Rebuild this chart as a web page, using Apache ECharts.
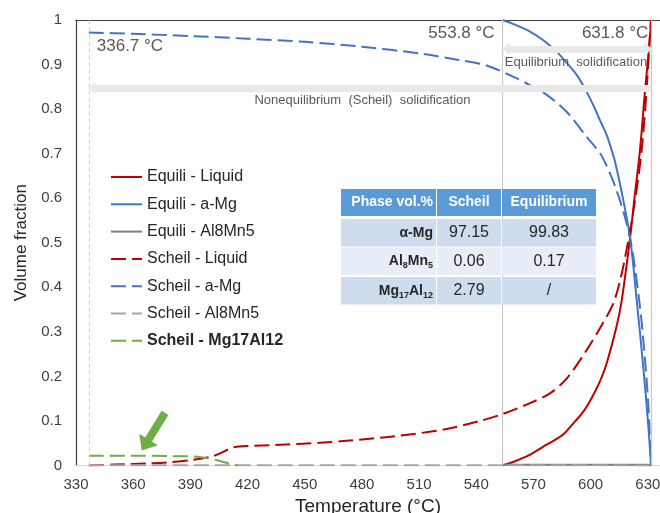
<!DOCTYPE html>
<html><head><meta charset="utf-8">
<script src="https://cdn.jsdelivr.net/npm/echarts@6/dist/echarts.min.js"></script>
<style>html,body{margin:0;padding:0;background:#fff}#c{width:660px;height:513px}</style>
</head><body><div id="c"></div>
<script>
const FONT = 'Liberation Sans, Arial, sans-serif';

// ---------- data ----------
const tEqLiq = [553.8, 560, 568, 575, 580, 585.7, 591, 596, 600, 605, 608.4, 613.6, 616.3, 620.7, 623, 625.9, 628.5, 630.5, 631.8];
const vEqLiq = [0, 0.009, 0.024, 0.042, 0.054, 0.07, 0.095, 0.12, 0.147, 0.19, 0.229, 0.312, 0.37, 0.511, 0.6, 0.708, 0.839, 0.93, 1.0];

const tEqMg = [553.8, 560, 568.2, 575, 582.2, 587, 592.7, 597, 601.4, 605, 608.4, 611, 612.8, 616, 620.7, 624.2, 627.6, 630.3, 631.7];
const vEqMg = [1.0, 0.99, 0.974, 0.955, 0.929, 0.906, 0.877, 0.846, 0.809, 0.774, 0.742, 0.708, 0.682, 0.62, 0.511, 0.37, 0.222, 0.087, 0];

const tEqAlMn = [553.8, 570, 600, 625, 630, 631.8];
const vEqAlMn = [0.0017, 0.0017, 0.0017, 0.0017, 0.0017, 0];

const tScLiq = [336.7, 350, 368.8, 377.6, 389.8, 400.3, 405, 410.8, 414.3, 440, 458, 470.2, 498.2, 524.4, 542, 554.2, 568.2, 578.7, 587.4, 597.9, 605.8, 611.9, 616, 619.8, 623.5, 626.8, 629.3, 631.6];
const vScLiq = [0, 0.002, 0.005, 0.007, 0.012, 0.019, 0.026, 0.038, 0.042, 0.047, 0.051, 0.055, 0.066, 0.082, 0.1, 0.116, 0.14, 0.162, 0.195, 0.259, 0.315, 0.364, 0.425, 0.506, 0.6, 0.708, 0.84, 1.0];

const tScMg = [336.7, 360, 390, 420, 450, 480, 510, 530, 544.6, 559.3, 568, 577, 587.4, 597.9, 605.8, 613.6, 620.7, 625.9, 628.5, 630.5, 631.6];
const vScMg = [0.972, 0.969, 0.964, 0.958, 0.951, 0.94, 0.925, 0.911, 0.899, 0.873, 0.854, 0.832, 0.794, 0.738, 0.695, 0.618, 0.511, 0.356, 0.24, 0.12, 0];

const tScAlMn = [336.7, 400, 500, 600, 631.5];
const vScAlMn = [0.0006, 0.0006, 0.0006, 0.0006, 0];

const tScMgAl = [336.7, 360, 380, 392, 398, 404, 409, 412, 415];
const vScMgAl = [0.022, 0.022, 0.021, 0.02, 0.017, 0.012, 0.006, 0.003, 0];

const seriesNames = ['Equili - Liquid', 'Equili - a-Mg', 'Equili - Al8Mn5', 'Scheil - Liquid', 'Scheil - a-Mg', 'Scheil - Al8Mn5', 'Scheil - Mg17Al12'];

const markTemps = [336.7, 553.8, 631.8];
const markTempLabels = ['336.7 °C', '553.8 °C', '631.8 °C'];

const tableHead = ['Phase vol.%', 'Scheil', 'Equilibrium'];
const tablePhases = ['{b|α-Mg}', '{b|Al}{s|8}{b|Mn}{s|5}', '{b|Mg}{s|17}{b|Al}{s|12}'];
const tableScheil = ['97.15', '0.06', '2.79'];
const tableEquil = ['99.83', '0.17', '/'];

// ---------- helpers ----------
const zip = (a, b) => a.map((x, i) => [x, b[i]]);
const RED = '#C00000', BLUE = '#4472C4', GRAY = '#7F7F7F', LGRAY = '#A5A5A5', GREEN = '#70AD47';
const DASH = [15, 6];

function lineSeries(name, t, v, color, dashed, extra) {
  return Object.assign({
    name, type: 'line', data: zip(t, v), symbol: 'none', showSymbol: false,
    smooth: 0.3,
    lineStyle: { color, width: 2, type: dashed ? DASH.slice() : 'solid', cap: 'butt', join: 'round' },
    itemStyle: { color },
    z: 3
  }, extra || {});
}

const chart = echarts.init(document.getElementById('c'), null, { renderer: 'canvas' });

// table graphic
const tbl = [];
const tx = [341, 437, 502], tw = [95, 64, 94];
const headY = 189, headH = 27;
const rowY = [219, 247.5, 277], rowH = 27.5;
const rowColors = ['#CFDCEE', '#E8EEF7', '#CFDCEE'];
for (let c = 0; c < 3; c++) {
  tbl.push({ type: 'rect', shape: { x: tx[c], y: headY, width: tw[c], height: headH }, style: { fill: '#5B9BD5' } });
  tbl.push({ type: 'text', style: { text: tableHead[c], x: c === 0 ? tx[c] + tw[c] - 3 : tx[c] + tw[c] / 2, y: headY + headH / 2,
    align: c === 0 ? 'right' : 'center', verticalAlign: 'middle', fill: '#fff', font: 'bold 14px ' + FONT } });
}
const vals = [tableScheil, tableEquil];
for (let r = 0; r < 3; r++) {
  for (let c = 0; c < 3; c++) {
    tbl.push({ type: 'rect', shape: { x: tx[c], y: rowY[r], width: tw[c], height: rowH }, style: { fill: rowColors[r] } });
  }
  tbl.push({ type: 'text', style: { text: tablePhases[r], x: tx[0] + tw[0] - 3, y: rowY[r] + rowH / 2, align: 'right', verticalAlign: 'middle',
    rich: { b: { fontSize: 14, fontWeight: 'bold', fontFamily: FONT, fill: '#262626', lineHeight: 18 },
            s: { fontSize: 9, fontWeight: 'bold', fontFamily: FONT, fill: '#262626', verticalAlign: 'bottom' } } } });
  for (let c = 1; c < 3; c++) {
    tbl.push({ type: 'text', style: { text: vals[c - 1][r], x: tx[c] + tw[c] / 2, y: rowY[r] + rowH / 2, align: 'center', verticalAlign: 'middle',
      fill: '#262626', font: '16px ' + FONT } });
  }
}

const series = [
  lineSeries(seriesNames[0], tEqLiq, vEqLiq, RED, false),
  lineSeries(seriesNames[1], tEqMg, vEqMg, BLUE, false),
  lineSeries(seriesNames[2], tEqAlMn, vEqAlMn, GRAY, false, { smooth: false }),
  lineSeries(seriesNames[3], tScLiq, vScLiq, RED, true),
  lineSeries(seriesNames[4], tScMg, vScMg, BLUE, true),
  lineSeries(seriesNames[5], tScAlMn, vScAlMn, LGRAY, true, { smooth: false }),
  lineSeries(seriesNames[6], tScMgAl, vScMgAl, GREEN, true),
  {
    name: 'annot', type: 'line', data: [], symbol: 'none', silent: true, z: 1,
    markLine: {
      silent: true, symbol: ['none', 'none'], animation: false,
      label: { show: false },
      data: [
        { xAxis: markTemps[0], lineStyle: { color: '#D0D0D0', type: [4, 3], width: 1 } },
        { xAxis: markTemps[1], lineStyle: { color: '#C8C8C8', type: 'solid', width: 1.2 } },
        { xAxis: markTemps[2], lineStyle: { color: '#C8C8C8', type: 'solid', width: 1.2 } },
        [ { coord: [markTemps[2], 0.847], symbol: 'none' },
          { coord: [markTemps[0] + 1.5, 0.847], symbol: 'triangle', symbolSize: [12, 8], lineStyle: { color: '#E9E9E9', width: 7, type: 'solid' } } ],
        [ { coord: [630.3, 0.935], symbol: 'triangle', symbolSize: [12, 8] },
          { coord: [555.5, 0.935], symbol: 'triangle', symbolSize: [12, 8], lineStyle: { color: '#E9E9E9', width: 7, type: 'solid' } } ],
        [ { coord: [376.7, 0.118], symbol: 'none' },
          { coord: [366.3, 0.046], symbol: 'triangle', symbolSize: [22, 13], lineStyle: { color: GREEN, width: 8, type: 'solid' } } ]
      ]
    },
    markPoint: {
      silent: true, symbol: 'circle', symbolSize: 0, animation: false,
      data: [
        { coord: [markTemps[0], 0.942], label: { show: true, formatter: markTempLabels[0], position: 'right', distance: 8, fontSize: 17, color: '#595959', fontFamily: FONT } },
        { coord: [markTemps[1], 0.970], label: { show: true, formatter: markTempLabels[1], position: 'left', distance: 8, fontSize: 17, color: '#595959', fontFamily: FONT } },
        { coord: [markTemps[2], 0.970], label: { show: true, formatter: markTempLabels[2], position: 'left', distance: 3, fontSize: 17, color: '#595959', fontFamily: FONT } },
        { coord: [592.3, 0.905], label: { show: true, formatter: 'Equilibrium  solidification', position: 'inside', fontSize: 13, color: '#595959', fontFamily: FONT } },
        { coord: [480.3, 0.82], label: { show: true, formatter: 'Nonequilibrium  (Scheil)  solidification', position: 'inside', fontSize: 13, color: '#595959', fontFamily: FONT } }
      ]
    }
  }
];

const legendData = seriesNames.map((n, i) => i === 6 ? { name: n, textStyle: { fontWeight: 'bold' } } : { name: n });

chart.setOption({
  animation: false,
  backgroundColor: '#fff',
  textStyle: { fontFamily: FONT },
  grid: { left: 76, right: 0, top: 20, bottom: 47.5, containLabel: false, outerBoundsMode: 'none' },
  legend: {
    orient: 'vertical', left: 110, top: 168, padding: 0,
    itemWidth: 31, itemHeight: 14, itemGap: 9.3,
    itemStyle: { opacity: 0 },
    textStyle: { fontSize: 16, lineHeight: 18, color: '#262626', fontFamily: FONT },
    data: legendData
  },
  xAxis: [
    {
      type: 'value', min: 330, max: 636.4, interval: 30,
      name: 'Temperature (°C)', nameLocation: 'middle', nameGap: 25,
      nameTextStyle: { fontSize: 19, color: '#262626', fontFamily: FONT },
      axisLine: { show: true, lineStyle: { color: '#D9D9D9', width: 1 } },
      axisTick: { show: false },
      splitLine: { show: false },
      axisLabel: { fontSize: 15, color: '#404040', margin: 12, fontFamily: FONT,
        formatter: v => (Math.abs(v % 30) < 1e-6 ? String(v) : ''), showMaxLabel: false }
    },
    {
      type: 'value', position: 'top', min: 330, max: 636.4,
      axisLine: { show: true, lineStyle: { color: '#404040', width: 1.2 } },
      axisTick: { show: false }, axisLabel: { show: false }, splitLine: { show: false }
    }
  ],
  yAxis: {
    type: 'value', min: 0, max: 1, interval: 0.1,
    name: 'Volume fraction', nameLocation: 'middle', nameGap: 44,
    nameTextStyle: { fontSize: 17, color: '#262626', fontFamily: FONT },
    axisLine: { show: true, lineStyle: { color: '#404040', width: 1.2 } },
    axisTick: { show: false },
    splitLine: { show: false },
    axisLabel: { fontSize: 15, color: '#404040', margin: 14, fontFamily: FONT }
  },
  series,
  graphic: { elements: tbl.map(e => Object.assign({ z: 100 }, e)) }
});
</script></body></html>
